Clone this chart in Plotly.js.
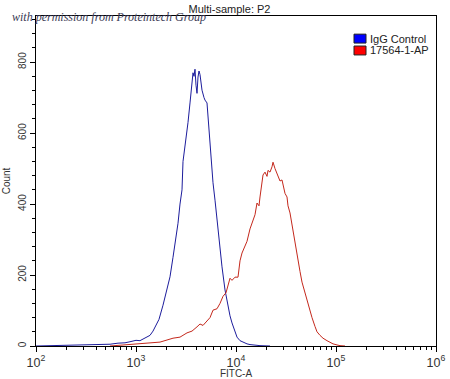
<!DOCTYPE html>
<html>
<head>
<meta charset="utf-8">
<script src="https://cdn.plot.ly/plotly-3.0.1.min.js"></script>
<style>html,body{margin:0;padding:0;background:#fff;}#chart{width:450px;height:379px;}</style>
</head>
<body>
<div id="chart"></div>
<script>
// IgG Control histogram (FITC-A intensity, count)
const iggFitc = [100,138,219,275,347,437,550,661,776,871,1000,1096,1230,1380,1479,1585,1698,1862,1995,2188,2344,2512,2630,2754,2884,2951,3090,3311,3467,3631,3715,3802,3890,3981,4074,4169,4266,4365,4467,4571,4786,4898,5129,5248,5495,5623,5754,5888,6166,6457,6918,7244,7762,8318,8710,9120,9772,10233,10965,11749,12882,13804,15488,17378,21878];
const iggCount = [0,1,2,1,3,4,5,8,9,12,16,15,22,30,42,58,75,115,150,195,250,300,346,400,440,520,560,630,685,740,770,760,780,735,712,758,775,765,740,721,700,693,685,645,560,520,496,460,411,355,279,223,158,110,85,65,38,25,15,11,6,4,2,1,0];

// 17564-1-AP histogram
const apFitc = [550,692,933,1230,1738,2344,2754,3236,3631,4074,4365,4677,5129,5495,5888,6457,6918,7413,7943,8318,8710,9120,9772,10471,10965,11482,12303,12882,13804,14454,15488,16218,16982,17378,18197,18621,19498,20417,20893,21878,22909,23442,24547,25704,26303,27542,28840,29512,30903,32359,33113,34674,36308,38905,40738,43652,45709,48978,51286,54954,57544,61660,64565,69183,74131,81283,87096,93325,102329,109648,123027];
const apCount = [0,2,5,7,11,22,25,37,42,54,62,58,72,80,101,105,120,140,150,175,191,185,194,194,240,262,285,295,330,345,370,403,395,420,455,482,490,478,495,490,505,518,500,485,476,465,468,455,430,420,395,375,340,290,251,210,180,150,125,100,80,55,40,30,22,15,10,6,3,1,0];

const seriesNames = ['IgG Control', '17564-1-AP'];
const seriesColors = ['#1c1c9c', '#c4281c'];
const legendFills = ['#0000ff', '#ff0000'];

const traces = [
  {x: iggFitc, y: iggCount, type: 'scatter', mode: 'lines', name: seriesNames[0],
   line: {color: seriesColors[0], width: 1}, showlegend: false},
  {x: apFitc, y: apCount, type: 'scatter', mode: 'lines', name: seriesNames[1],
   line: {color: seriesColors[1], width: 1}, showlegend: false}
];

const tickFont = {family: 'Liberation Sans, Arial, sans-serif', size: 10, color: '#333'};

const layout = {
  width: 450, height: 379,
  margin: {l: 36, r: 14, t: 16, b: 33},
  paper_bgcolor: '#fff', plot_bgcolor: '#fff',
  title: {text: 'Multi-sample: P2', font: {family: 'Liberation Sans, Arial, sans-serif', size: 11, color: '#222'},
          x: 0.51, xanchor: 'center', y: 0.985, yanchor: 'top'},
  xaxis: {type: 'log', range: [2, 6], dtick: 1, exponentformat: 'power', showexponent: 'all',
          showgrid: false, zeroline: false, showline: true, linecolor: '#000', linewidth: 1, mirror: true,
          ticks: 'outside', ticklen: 5, tickcolor: '#000', tickfont: tickFont,
          minor: {dtick: 'D1', ticks: 'outside', ticklen: 3, tickcolor: '#000', showgrid: false},
          title: {text: 'FITC-A', font: {family: 'Liberation Sans, Arial, sans-serif', size: 10, color: '#333'}, standoff: 2}},
  yaxis: {range: [0, 930], dtick: 200, showgrid: false, zeroline: false, showline: true, linecolor: '#000', linewidth: 1, mirror: true,
          ticks: 'outside', ticklen: 5, tickcolor: '#000', tickangle: -90, tickfont: tickFont,
          minor: {dtick: 40, ticks: 'outside', ticklen: 3, tickcolor: '#000', showgrid: false},
          title: {text: 'Count', font: {family: 'Liberation Sans, Arial, sans-serif', size: 10, color: '#333'}, standoff: 4}},
  shapes: [
    {type: 'rect', xref: 'paper', yref: 'paper', x0: 0.795, x1: 0.825, y0: 0.918, y1: 0.945,
     fillcolor: legendFills[0], line: {color: '#222', width: 1}},
    {type: 'rect', xref: 'paper', yref: 'paper', x0: 0.795, x1: 0.825, y0: 0.882, y1: 0.909,
     fillcolor: legendFills[1], line: {color: '#222', width: 1}}
  ],
  annotations: [
    {xref: 'paper', yref: 'paper', x: 0.83, y: 0.9315, xanchor: 'left', yanchor: 'middle', showarrow: false,
     text: seriesNames[0], font: {family: 'Liberation Sans, Arial, sans-serif', size: 11, color: '#222'}},
    {xref: 'paper', yref: 'paper', x: 0.83, y: 0.8955, xanchor: 'left', yanchor: 'middle', showarrow: false,
     text: seriesNames[1], font: {family: 'Liberation Sans, Arial, sans-serif', size: 11, color: '#222'}},
    {xref: 'paper', yref: 'paper', x: -0.065, y: 0.997, xanchor: 'left', yanchor: 'middle', showarrow: false,
     text: '<i>with permission from Proteintech Group</i>',
     font: {family: 'Liberation Serif, DejaVu Serif, serif', size: 12, color: '#3a3a55'}}
  ]
};

Plotly.newPlot('chart', traces, layout, {staticPlot: true, displayModeBar: false});
</script>
</body>
</html>
